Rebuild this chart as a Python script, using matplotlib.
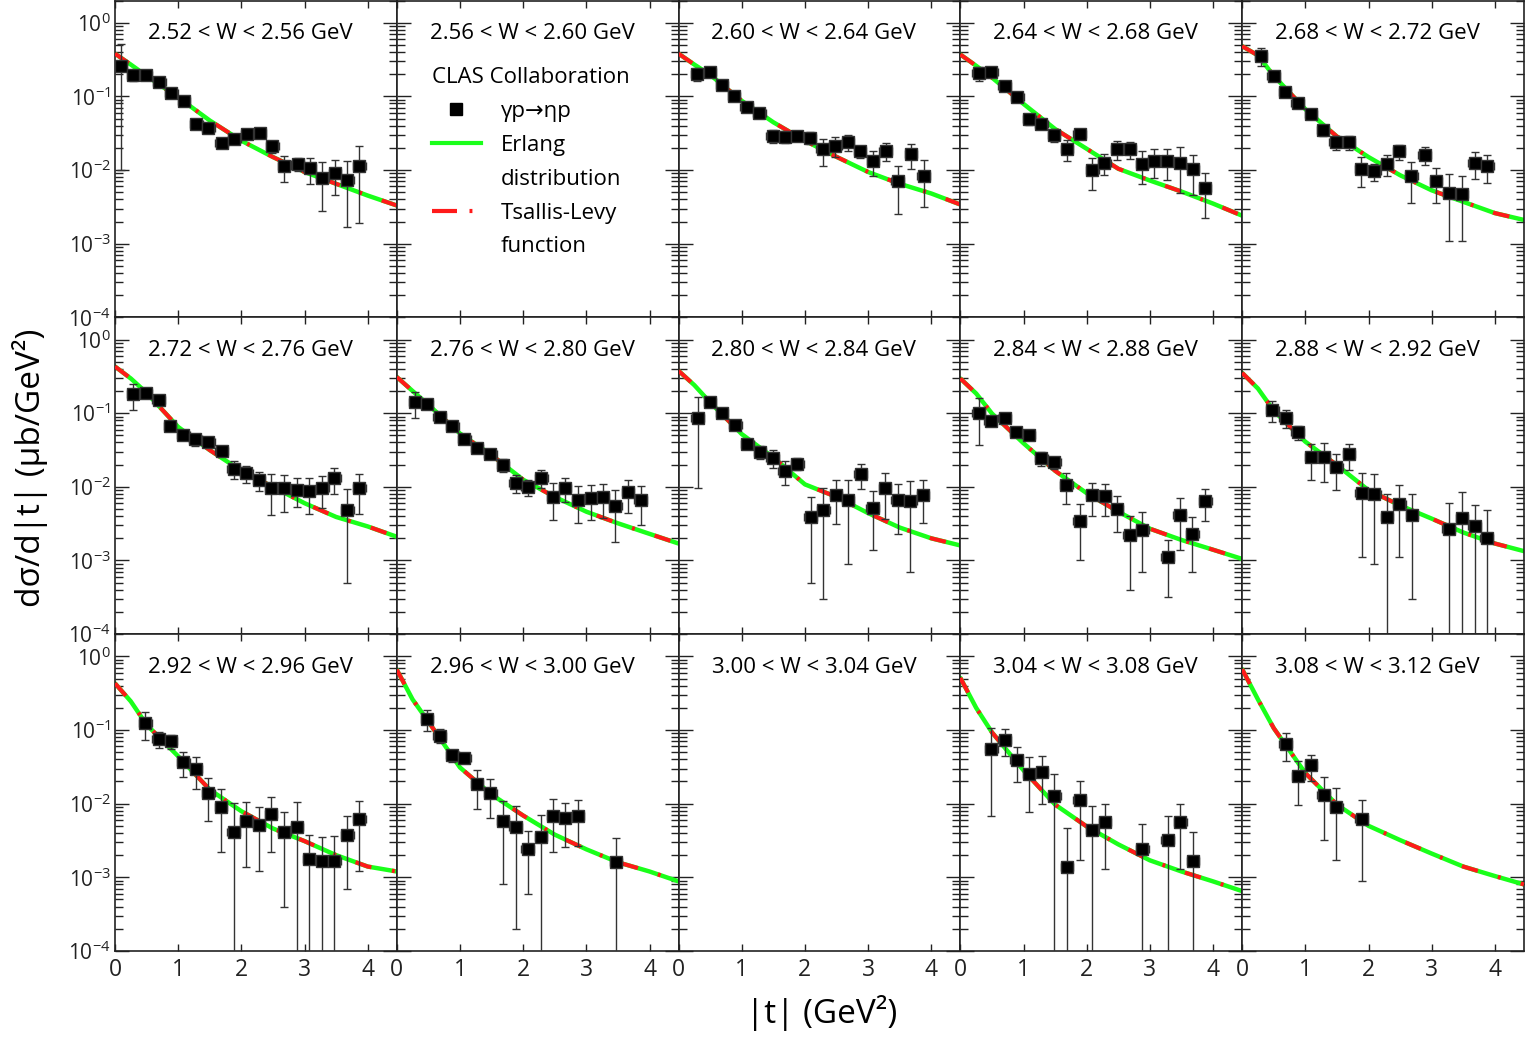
import numpy as np
import matplotlib.pyplot as plt
from matplotlib.lines import Line2D
from matplotlib.ticker import LogLocator, FixedLocator, FuncFormatter, NullFormatter

plt.rcParams['font.family'] = ['Open Sans', 'DejaVu Sans']
plt.rcParams['mathtext.fontset'] = 'custom'
plt.rcParams['mathtext.rm'] = 'Open Sans'
plt.rcParams['axes.unicode_minus'] = False

# W bins (lower edge, GeV)
w_low = [2.52, 2.56, 2.60, 2.64, 2.68,
         2.72, 2.76, 2.80, 2.84, 2.88,
         2.92, 2.96, 3.00, 3.04, 3.08]

# CLAS data: |t|, dsigma/dt, error
t_252 = [0.09, 0.29, 0.49, 0.70, 0.89, 1.09, 1.29, 1.48, 1.69, 1.89, 2.09, 2.29, 2.49, 2.68, 2.89, 3.08, 3.28, 3.48, 3.68, 3.87]
y_252 = [0.26, 0.196, 0.196, 0.158, 0.111, 0.087, 0.042, 0.037, 0.023, 0.0265, 0.031, 0.032, 0.021, 0.0113, 0.0122, 0.0105, 0.0078, 0.0092, 0.0074, 0.0114]
e_252 = [0.25, 0.035, 0.02, 0.015, 0.01, 0.006, 0.004, 0.005, 0.003, 0.003, 0.003, 0.004, 0.004, 0.0044, 0.0025, 0.004, 0.005, 0.0046, 0.0057, 0.0095]

t_260 = [0.29, 0.49, 0.69, 0.88, 1.08, 1.28, 1.49, 1.69, 1.88, 2.08, 2.28, 2.48, 2.68, 2.87, 3.08, 3.28, 3.47, 3.68, 3.88]
y_260 = [0.20, 0.215, 0.142, 0.102, 0.0724, 0.0596, 0.0294, 0.0285, 0.0294, 0.0274, 0.019, 0.0213, 0.0239, 0.018, 0.0132, 0.0184, 0.0070, 0.0163, 0.0083]
e_260 = [0.04, 0.02, 0.01, 0.007, 0.006, 0.008, 0.006, 0.005, 0.004, 0.005, 0.0075, 0.0065, 0.006, 0.0034, 0.005, 0.005, 0.0045, 0.006, 0.0052]

t_264 = [0.29, 0.49, 0.70, 0.90, 1.09, 1.28, 1.48, 1.69, 1.89, 2.09, 2.28, 2.48, 2.68, 2.88, 3.07, 3.27, 3.47, 3.68, 3.87]
y_264 = [0.205, 0.211, 0.139, 0.097, 0.049, 0.042, 0.030, 0.0194, 0.031, 0.0099, 0.0126, 0.0194, 0.019, 0.0122, 0.0134, 0.0134, 0.0126, 0.0104, 0.0057]
e_264 = [0.045, 0.015, 0.01, 0.008, 0.008, 0.006, 0.006, 0.006, 0.004, 0.0046, 0.004, 0.0056, 0.005, 0.0058, 0.0056, 0.006, 0.0077, 0.0058, 0.0035]

t_268 = [0.30, 0.50, 0.68, 0.88, 1.09, 1.28, 1.48, 1.69, 1.88, 2.09, 2.29, 2.48, 2.68, 2.89, 3.07, 3.28, 3.48, 3.68, 3.88]
y_268 = [0.355, 0.19, 0.116, 0.080, 0.058, 0.035, 0.0239, 0.0239, 0.0104, 0.0096, 0.0122, 0.0179, 0.0083, 0.0161, 0.0072, 0.0049, 0.0047, 0.0126, 0.0112]
e_268 = [0.1, 0.015, 0.01, 0.007, 0.005, 0.006, 0.005, 0.005, 0.0046, 0.0025, 0.0039, 0.0043, 0.0047, 0.0044, 0.0036, 0.0038, 0.0036, 0.005, 0.0046]

t_272 = [0.29, 0.49, 0.69, 0.87, 1.08, 1.27, 1.48, 1.69, 1.88, 2.08, 2.28, 2.47, 2.68, 2.88, 3.07, 3.28, 3.47, 3.68, 3.87]
y_272 = [0.181, 0.189, 0.15, 0.0667, 0.050, 0.0444, 0.0408, 0.0308, 0.0177, 0.0152, 0.0123, 0.0095, 0.0095, 0.0092, 0.0088, 0.0097, 0.013, 0.0049, 0.0096]
e_272 = [0.07, 0.015, 0.012, 0.006, 0.005, 0.008, 0.005, 0.004, 0.005, 0.004, 0.0035, 0.0053, 0.005, 0.0038, 0.0045, 0.0045, 0.0051, 0.0044, 0.0053]

t_276 = [0.29, 0.48, 0.68, 0.88, 1.07, 1.27, 1.48, 1.68, 1.88, 2.07, 2.29, 2.47, 2.66, 2.87, 3.07, 3.26, 3.46, 3.66, 3.86]
y_276 = [0.141, 0.132, 0.089, 0.068, 0.0444, 0.0338, 0.0283, 0.0201, 0.0113, 0.010, 0.0132, 0.0073, 0.0097, 0.0067, 0.0071, 0.0073, 0.0055, 0.0084, 0.0066]
e_276 = [0.055, 0.015, 0.008, 0.006, 0.004, 0.004, 0.004, 0.004, 0.003, 0.0025, 0.0035, 0.0038, 0.0035, 0.0035, 0.0035, 0.0035, 0.0037, 0.004, 0.0036]

t_280 = [0.30, 0.50, 0.69, 0.90, 1.09, 1.29, 1.49, 1.68, 1.88, 2.09, 2.29, 2.49, 2.68, 2.88, 3.07, 3.27, 3.47, 3.67, 3.87]
y_280 = [0.0865, 0.140, 0.099, 0.0687, 0.0387, 0.0299, 0.0248, 0.0165, 0.0207, 0.0039, 0.0049, 0.0077, 0.0066, 0.0149, 0.0051, 0.0095, 0.0066, 0.0064, 0.0077]
e_280 = [0.077, 0.015, 0.01, 0.007, 0.006, 0.006, 0.007, 0.006, 0.004, 0.0034, 0.0046, 0.0046, 0.0057, 0.0055, 0.0037, 0.0058, 0.0043, 0.0057, 0.0045]

t_284 = [0.29, 0.48, 0.70, 0.88, 1.08, 1.28, 1.49, 1.68, 1.89, 2.09, 2.29, 2.48, 2.68, 2.88, 3.28, 3.47, 3.67, 3.88]
y_284 = [0.099, 0.078, 0.0873, 0.0558, 0.0502, 0.0243, 0.0214, 0.0105, 0.0034, 0.0077, 0.0075, 0.0050, 0.0022, 0.0026, 0.00112, 0.0042, 0.0023, 0.0064]
e_284 = [0.062, 0.012, 0.01, 0.007, 0.006, 0.005, 0.004, 0.0047, 0.0024, 0.0037, 0.0035, 0.0026, 0.0018, 0.0019, 0.0008, 0.0028, 0.0016, 0.003]

t_288 = [0.48, 0.69, 0.88, 1.09, 1.29, 1.49, 1.69, 1.89, 2.09, 2.29, 2.49, 2.69, 3.27, 3.48, 3.68, 3.87]
y_288 = [0.11, 0.087, 0.0547, 0.0255, 0.0255, 0.0187, 0.0277, 0.0083, 0.0079, 0.0039, 0.0058, 0.0041, 0.0027, 0.0038, 0.0029, 0.002]
e_288 = [0.035, 0.025, 0.012, 0.013, 0.014, 0.0096, 0.011, 0.0072, 0.007, 0.0042, 0.0047, 0.0038, 0.0034, 0.0048, 0.0028, 0.0028]

t_292 = [0.48, 0.69, 0.88, 1.08, 1.28, 1.48, 1.68, 1.88, 2.08, 2.28, 2.47, 2.68, 2.88, 3.07, 3.27, 3.47, 3.68, 3.87]
y_292 = [0.124, 0.0755, 0.070, 0.0368, 0.0296, 0.014, 0.009, 0.0041, 0.0059, 0.0051, 0.0072, 0.0041, 0.0048, 0.0018, 0.00168, 0.00168, 0.0037, 0.0061]
e_292 = [0.05, 0.018, 0.015, 0.014, 0.014, 0.0082, 0.0068, 0.0061, 0.0045, 0.0039, 0.005, 0.0037, 0.0056, 0.002, 0.0019, 0.002, 0.003, 0.0049]

t_296 = [0.48, 0.68, 0.88, 1.07, 1.27, 1.48, 1.68, 1.88, 2.07, 2.28, 2.47, 2.66, 2.87, 3.47]
y_296 = [0.141, 0.0838, 0.0453, 0.0417, 0.0185, 0.014, 0.0058, 0.0048, 0.0024, 0.0035, 0.0069, 0.0064, 0.0069, 0.0016]
e_296 = [0.045, 0.018, 0.008, 0.006, 0.01, 0.0076, 0.005, 0.0046, 0.0018, 0.0036, 0.0047, 0.0038, 0.0042, 0.0018]

t_304 = [0.49, 0.70, 0.89, 1.09, 1.29, 1.49, 1.69, 1.89, 2.09, 2.29, 2.88, 3.28, 3.48, 3.68]
y_304 = [0.0558, 0.074, 0.0396, 0.0253, 0.0269, 0.0126, 0.00137, 0.0111, 0.0044, 0.0056, 0.00245, 0.0032, 0.0056, 0.00168]
e_304 = [0.049, 0.03, 0.02, 0.0175, 0.017, 0.013, 0.0033, 0.0094, 0.0048, 0.0043, 0.0029, 0.0035, 0.0043, 0.0025]

t_308 = [0.69, 0.89, 1.09, 1.29, 1.49, 1.89]
y_308 = [0.0646, 0.0235, 0.0331, 0.0132, 0.009, 0.0061]
e_308 = [0.027, 0.014, 0.013, 0.01, 0.0073, 0.0052]

# fitted curves (Erlang / Tsallis-Levy overlap), read at these |t|
t_fit = [0, 0.25, 0.5, 1.0, 1.5, 2.0, 2.5, 3.0, 3.5, 4.0, 4.46]
fit_252 = [0.38, 0.27, 0.19, 0.097, 0.047, 0.025, 0.015, 0.0094, 0.0065, 0.0045, 0.0033]
fit_260 = [0.38, 0.27, 0.196, 0.087, 0.0445, 0.025, 0.0151, 0.0094, 0.0065, 0.0048, 0.0034]
fit_264 = [0.37, 0.26, 0.18, 0.079, 0.036, 0.0194, 0.0104, 0.0072, 0.0051, 0.0035, 0.0024]
fit_268 = [0.48, 0.36, 0.19, 0.067, 0.0285, 0.015, 0.0085, 0.0053, 0.0037, 0.0026, 0.0021]
fit_272 = [0.43, 0.296, 0.189, 0.065, 0.0315, 0.0165, 0.010, 0.006, 0.0039, 0.0029, 0.0021]
fit_276 = [0.31, 0.2, 0.13, 0.053, 0.027, 0.0125, 0.0073, 0.0046, 0.0032, 0.0023, 0.0017]
fit_280 = [0.376, 0.24, 0.14, 0.052, 0.025, 0.0108, 0.0073, 0.0044, 0.0028, 0.0020, 0.0016]
fit_284 = [0.296, 0.185, 0.099, 0.039, 0.0165, 0.0082, 0.0046, 0.0027, 0.0019, 0.0014, 0.00105]
fit_288 = [0.353, 0.216, 0.108, 0.041, 0.0197, 0.009, 0.0056, 0.0037, 0.0024, 0.0017, 0.00134]
fit_292 = [0.43, 0.245, 0.118, 0.044, 0.0155, 0.0079, 0.0046, 0.0031, 0.0020, 0.0014, 0.0012]
fit_296 = [0.66, 0.26, 0.13, 0.031, 0.0133, 0.0069, 0.0038, 0.0024, 0.0016, 0.0012, 0.00088]
fit_304 = [0.51, 0.2, 0.093, 0.0283, 0.0097, 0.0049, 0.0028, 0.0017, 0.0012, 0.00088, 0.00065]
fit_308 = [0.67, 0.26, 0.106, 0.026, 0.0097, 0.005, 0.0032, 0.0021, 0.0014, 0.00104, 0.0008]

panels = [
    (t_252, y_252, e_252, fit_252), None, (t_260, y_260, e_260, fit_260),
    (t_264, y_264, e_264, fit_264), (t_268, y_268, e_268, fit_268),
    (t_272, y_272, e_272, fit_272), (t_276, y_276, e_276, fit_276),
    (t_280, y_280, e_280, fit_280), (t_284, y_284, e_284, fit_284),
    (t_288, y_288, e_288, fit_288),
    (t_292, y_292, e_292, fit_292), (t_296, y_296, e_296, fit_296), None,
    (t_304, y_304, e_304, fit_304), (t_308, y_308, e_308, fit_308),
]

GREEN = '#1aff1a'
RED = '#ff1a1a'
RED_DASH = (0, (4, 5, 0.7, 5))

fig, axes = plt.subplots(3, 5, figsize=(15.25, 10.4), dpi=100,
                         sharex=True, sharey=True,
                         gridspec_kw=dict(hspace=0, wspace=0))
fig.subplots_adjust(left=0.0754, right=0.9993, top=0.9995, bottom=0.0856)

for i, ax in enumerate(axes.flat):
    ax.set_yscale('log', nonpositive='clip')
    ax.set_xlim(0, 4.46)
    ax.set_ylim(1e-4, 2.0)
    d = panels[i]
    if d is not None:
        t, y, e, fit = d
        ax.plot(t_fit, fit, color=GREEN, lw=3.2, solid_capstyle='round', zorder=2)
        ax.plot(t_fit, fit, color=RED, lw=3, linestyle=RED_DASH, zorder=3)
        ax.errorbar(t, y, yerr=e, xerr=0.1, fmt='s', ms=8, mfc='black', mec='#333333',
                    ecolor='#333333', elinewidth=1, capsize=3, capthick=1, zorder=4)
    lo = w_low[i]
    ax.text(0.48, 0.895, f'{lo:.2f} < W < {lo + 0.04:.2f} GeV', transform=ax.transAxes,
            ha='center', va='center', fontsize=16)

    ax.xaxis.set_major_locator(FixedLocator([0, 1, 2, 3, 4]))
    ax.yaxis.set_major_locator(LogLocator(base=10, numticks=10))
    ax.yaxis.set_minor_locator(LogLocator(base=10, subs=np.arange(2, 10), numticks=20))
    ax.yaxis.set_minor_formatter(NullFormatter())
    ax.yaxis.set_major_formatter(FuncFormatter(
        lambda v, p: r'$\mathregular{10^{%d}}$' % round(np.log10(v))))
    ax.tick_params(which='both', direction='in', top=True, right=True, colors='#222222')
    ax.tick_params(axis='y', which='major', length=10, width=1, labelsize=15, pad=3)
    ax.tick_params(axis='y', which='minor', length=6, width=1)
    ax.tick_params(axis='x', which='major', length=5, width=1, labelsize=16.5, pad=5)
    for s in ax.spines.values():
        s.set_color('#222222')
        s.set_linewidth(1.2)

# legend in the empty 2.56-2.60 panel
leg_ax = axes[0, 1]
handles = [Line2D([], [], marker='s', ms=8, color='black', linestyle='none'),
           Line2D([], [], color=GREEN, lw=3),
           Line2D([], [], linestyle='none'),
           Line2D([], [], color=RED, lw=3, linestyle=(0, (6, 3, 0.7, 3))),
           Line2D([], [], linestyle='none')]
labels = ['γp→ηp', 'Erlang', 'distribution', 'Tsallis-Levy', 'function']
leg = leg_ax.legend(handles, labels, title='CLAS Collaboration', loc='upper left',
                    bbox_to_anchor=(0.124, 0.79), frameon=False, fontsize=16,
                    title_fontsize=16, handlelength=2.2, handletextpad=0.9,
                    borderpad=0, borderaxespad=0, labelspacing=0.58,
                    numpoints=1, alignment='left')

fig.text(0.02, 0.55, 'dσ/d|t| (μb/GeV²)', rotation=90, ha='center', va='center', fontsize=24)
fig.text(0.539, 0.026, '|t| (GeV²)', ha='center', va='center', fontsize=24)

fig.savefig('out.png', dpi=100)
